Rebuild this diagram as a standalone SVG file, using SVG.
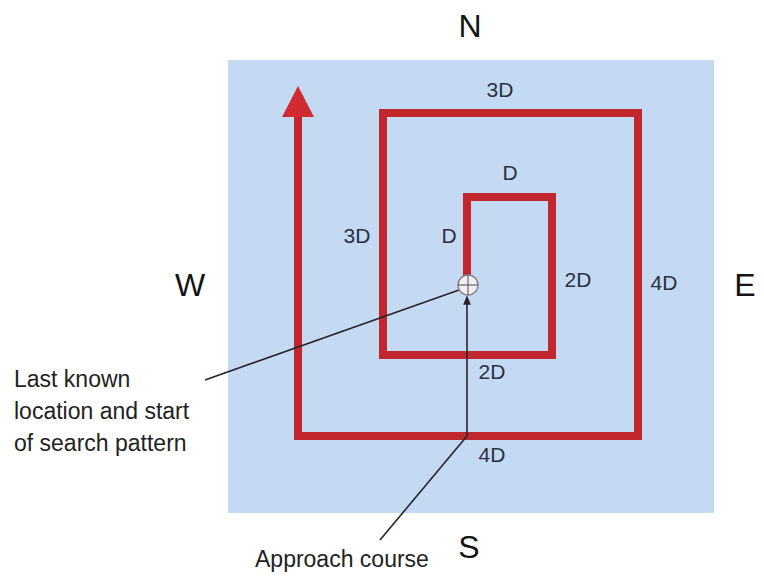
<svg xmlns="http://www.w3.org/2000/svg" width="764" height="576" viewBox="0 0 764 576">
  <style>
    .compass { font-family: "Liberation Sans", Arial, sans-serif; font-size: 32px; fill: #141414; text-anchor: middle; }
    .dim { font-family: "Liberation Sans", Arial, sans-serif; font-size: 21px; fill: #2b3140; text-anchor: middle; }
    .note { font-family: "Liberation Sans", Arial, sans-serif; font-size: 23px; fill: #222; }
    .track { fill: none; stroke: #c1282e; stroke-width: 8; stroke-linejoin: miter; stroke-linecap: square; }
    .leader { fill: none; stroke: #2a2228; stroke-width: 1.6; }
  </style>
  <defs>
    <marker id="smallArrow" viewBox="0 0 10 10" refX="5" refY="5" markerWidth="6" markerHeight="6" orient="auto">
      <path d="M0,1 L10,5 L0,9 Z" fill="#2a2228"/>
    </marker>
  </defs>
  <rect width="764" height="576" fill="#ffffff"/>
  <g id="search-area">
    <rect x="228" y="60" width="486" height="453" fill="#c4daf3"/>
  </g>
  <g id="search-track">
    <polyline class="track" points="467,287 467,197 552,197 552,355 383,355 383,113 638,113 638,436 298,436 298,116"/>
    <polygon points="298,86 282,117 314,117" fill="#d12a30"/>
  </g>
  <g id="connectors">
    <line class="leader" x1="205" y1="380" x2="459" y2="290"/>
    <line class="leader" x1="380" y1="540" x2="467" y2="436"/>
    <line class="leader" x1="467" y1="436" x2="467" y2="300" marker-end="url(#smallArrow)"/>
  </g>
  <g id="last-known-location">
    <circle cx="468" cy="285" r="10" fill="#f2f0f2" stroke="#8a8488" stroke-width="1.5"/>
    <line x1="458" y1="285" x2="478" y2="285" stroke="#6a6468" stroke-width="1.2"/>
    <line x1="468" y1="275" x2="468" y2="295" stroke="#6a6468" stroke-width="1.2"/>
  </g>
  <g id="compass">
    <text class="compass" x="470" y="37">N</text>
    <text class="compass" x="469" y="558">S</text>
    <text class="compass" x="190" y="296">W</text>
    <text class="compass" x="745" y="296">E</text>
  </g>
  <g id="dimension-labels">
    <text class="dim" x="500" y="97">3D</text>
    <text class="dim" x="510" y="180">D</text>
    <text class="dim" x="357" y="243">3D</text>
    <text class="dim" x="449" y="243">D</text>
    <text class="dim" x="578" y="287">2D</text>
    <text class="dim" x="664" y="290">4D</text>
    <text class="dim" x="492" y="379">2D</text>
    <text class="dim" x="492" y="462">4D</text>
  </g>
  <g id="notes">
    <text class="note" x="14" y="387">Last known</text>
    <text class="note" x="14" y="419">location and start</text>
    <text class="note" x="14" y="451">of search pattern</text>
    <text class="note" x="255" y="567">Approach course</text>
  </g>
</svg>
